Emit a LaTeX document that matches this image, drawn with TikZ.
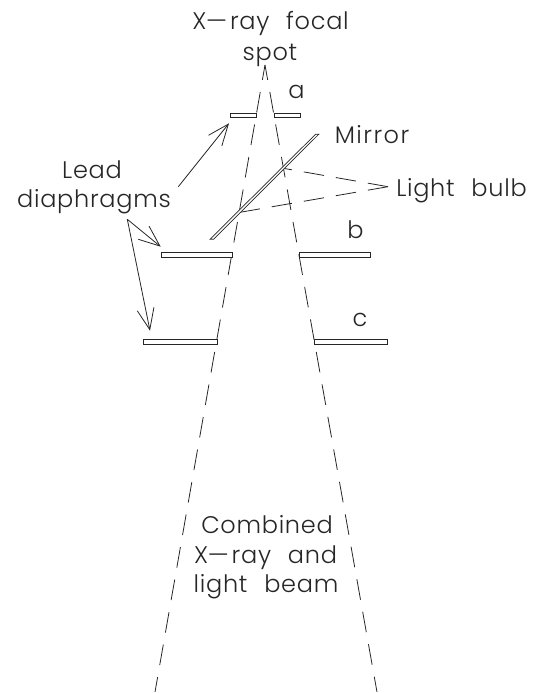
\documentclass[tikz,border=0pt]{standalone}
\usepackage{fontspec}
\setmainfont{Poppins}[UprightFont=* Light,LetterSpace=3,WordSpace=2.3]
\usetikzlibrary{arrows.meta}
\newcommand\longdash{\scalebox{1.9}[1]{-}}
\tikzset{
 x=1pt,y=-1pt,
 lbl/.style={anchor=base,inner sep=0pt,font=\fontsize{24}{24}\selectfont,text=black!85},
 plate/.style={draw=black!85,line width=0.9pt,fill=white,inner sep=0pt},
 beam/.style={draw=black!85,line width=0.8pt,dash pattern=on 20.8pt off 12.2pt,dash phase=5.6pt},
 ray/.style={draw=black!85,line width=0.8pt,dash pattern=on 20.5pt off 12pt},
 pointer/.style={draw=black!85,line width=0.8pt,-{Straight Barb[length=21pt,width=17pt,line width=0.8pt]}}
}
\begin{document}
\begin{tikzpicture}
\useasboundingbox (0,0) rectangle (533,693);
\coordinate (apex) at (265,65);
\coordinate (beamL) at (155,692);
\coordinate (beamR) at (377,692);
\coordinate (bulb) at (388,186.7);
\coordinate (mirrorU) at (283.3,168.3);
\coordinate (mirrorL) at (240,212.3);
\coordinate (leadA) at (178.3,186.7);
\coordinate (leadB) at (127.3,219.3);
\coordinate (tipA) at (229,123.3);
\coordinate (tipB) at (160.7,246.7);
\coordinate (tipC) at (150,330.7);
% beam
\draw[beam] (apex) -- (beamL);
\draw[beam] (apex) -- (beamR);
% light rays
\draw[ray] (bulb) -- (mirrorU);
\draw[ray] (bulb) -- (mirrorL);
% diaphragms
\node[plate,minimum width=26.4pt,minimum height=4pt] (a1) at (243.5,115.5) {};
\node[plate,minimum width=26.4pt,minimum height=4pt] (a2) at (287.5,115.5) {};
\node[plate,minimum width=71.2pt,minimum height=4.5pt] (b1) at (196.9,254.8) {};
\node[plate,minimum width=71.7pt,minimum height=4.5pt] (b2) at (334.9,254.8) {};
\node[plate,minimum width=74pt,minimum height=4.5pt] (c1) at (180.3,341.8) {};
\node[plate,minimum width=73.4pt,minimum height=4.5pt] (c2) at (351,341.8) {};
% mirror
\draw[draw=black!85,line width=0.7pt,fill=white] (210,239.3) -- (213.5,239.3) -- (318.7,134.3) -- (315.5,134.3) -- cycle;
% pointers
\draw[pointer] (leadA) -- (tipA);
\draw[pointer] (leadB) -- (tipB);
\draw[pointer] (leadB) -- (tipC);
% text
\node[lbl] (t1) at (270.5,30) {X\longdash ray focal};
\node[lbl] (t2) at (270,60) {spot};
\node[lbl] (ta) at (296.5,98) {a};
\node[lbl] (tm) at (372,143) {\addfontfeature{LetterSpace=6}Mirror};
\node[lbl] (tl) at (461.5,196) {Light bulb};
\node[lbl] (tb) at (355.5,238) {b};
\node[lbl] (tc) at (360,326) {c};
\node[lbl] (t3) at (92,178) {Lead};
\node[lbl] (t4) at (94,207) {diaphragms};
\node[lbl] (t5) at (267,533) {Combined};
\node[lbl] (t6) at (265.5,563) {X\longdash ray and};
\node[lbl] (t7) at (266,592) {light beam};
\end{tikzpicture}
\end{document}
